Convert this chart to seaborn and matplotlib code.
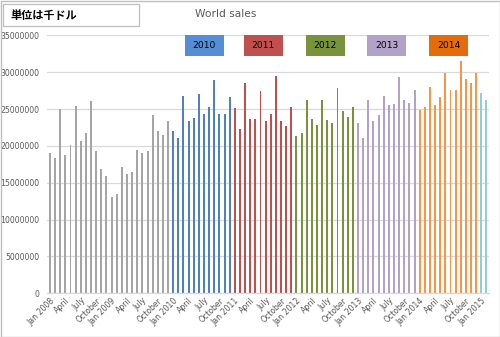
import matplotlib
matplotlib.use("Agg")
import matplotlib.pyplot as plt
import seaborn as sns
import pandas as pd
from matplotlib.patches import Rectangle

# ---- data (values in units shown on the axis) ----
sales_2008 = [19100000, 18420000, 25000000, 18830000, 20180000, 25450000,
              20720000, 21800000, 26130000, 19370000, 16940000, 15860000]
sales_2009 = [13020000, 13420000, 17200000, 16260000, 16400000, 19500000,
              19100000, 19360000, 24230000, 22090000, 21550000, 23400000]
sales_2010 = [22000000, 21050000, 26750000, 23450000, 23850000, 27000000,
              24400000, 25250000, 28950000, 24400000, 24400000, 26600000]
sales_2011 = [25100000, 22250000, 28500000, 23600000, 23600000, 27450000,
              23450000, 24400000, 29500000, 23450000, 22650000, 25350000]
sales_2012 = [21400000, 21800000, 26270000, 23700000, 22900000, 26270000,
              23550000, 23100000, 27830000, 24800000, 23880000, 25350000]
sales_2013 = [23100000, 21050000, 26200000, 23450000, 24250000, 26750000,
              25500000, 25650000, 29370000, 26200000, 25900000, 27650000]
sales_2014 = [24950000, 25350000, 28070000, 25500000, 26600000, 29900000,
              27550000, 27650000, 31530000, 29100000, 28500000, 29900000]
sales_2015 = [27150000, 26200000]

years = ["2008", "2009", "2010", "2011", "2012", "2013", "2014", "2015"]
quarter_labels = ["Jan", "April", "July", "October"]
legend_years = ["2010", "2011", "2012", "2013", "2014"]
title = "World sales"
unit_text = "単位は千ドル"

bar_colors = {"2008": "#A5A5A5", "2009": "#A5A5A5", "2010": "#4F81BD",
              "2011": "#C0504D", "2012": "#77933C", "2013": "#B3A2C7",
              "2014": "#F79646", "2015": "#93CDDD"}
box_colors = {"2010": "#558ED5", "2011": "#C0504D", "2012": "#77933C",
              "2013": "#B3A2C7", "2014": "#E46C0A"}

series = [sales_2008, sales_2009, sales_2010, sales_2011,
          sales_2012, sales_2013, sales_2014, sales_2015]

rows = []
i = 0
for y, vals in zip(years, series):
    for v in vals:
        rows.append({"idx": i, "value": v, "year": y})
        i += 1
df = pd.DataFrame(rows)
n = len(df)

# tick labels every 3 months
tick_pos = list(range(0, n, 3))
tick_lab = []
for p in tick_pos:
    m = p % 12
    yr = 2008 + p // 12
    if m == 0:
        tick_lab.append(f"Jan {yr}")
    else:
        tick_lab.append(quarter_labels[m // 3])

# ---- figure ----
sns.set_theme(style="white")
plt.rcParams["font.family"] = ["DejaVu Sans", "Noto Sans CJK JP"]

fig = plt.figure(figsize=(5.0, 3.37), dpi=100)
ax = fig.add_axes([0.0948, 0.1297, 0.978 - 0.0948, 0.8947 - 0.1297])

sns.barplot(data=df, x="idx", y="value", hue="year", palette=bar_colors,
            dodge=False, width=0.38, legend=False, ax=ax, saturation=1,
            linewidth=0)
for p in ax.patches:
    p.set_antialiased(False)

ax.set_xlim(-0.5, n - 0.5)
ax.set_ylim(0, 35000000)
ax.set_yticks(range(0, 35000001, 5000000))
ax.set_yticklabels([str(v) for v in range(0, 35000001, 5000000)],
                   fontsize=5.6, color="#595959")
ax.yaxis.grid(True, color="#D9D9D9", linewidth=0.9)
ax.set_axisbelow(True)
ax.set_xticks(tick_pos)
ax.set_xticklabels(tick_lab, rotation=45, ha="right", rotation_mode="anchor",
                   fontsize=5.6, color="#595959")
ax.tick_params(axis="x", length=0, pad=2)
ax.tick_params(axis="y", length=0, pad=6)
ax.set_xlabel("")
ax.set_ylabel("")
for s in ["top", "right", "left"]:
    ax.spines[s].set_visible(False)
ax.spines["bottom"].set_color("#D9D9D9")
ax.spines["bottom"].set_linewidth(0.9)

# title
fig.text(0.452, 0.958, title, ha="center", va="center", fontsize=7.7,
         color="#595959")

# unit box
fig.patches.append(Rectangle((3 / 500, 1 - 26 / 337), 136 / 500, 22 / 337,
                             transform=fig.transFigure, facecolor="white",
                             edgecolor="#BFBFBF", linewidth=0.9))
fig.text(10 / 500, 1 - 15.5 / 337, unit_text, ha="left", va="center",
         fontsize=8, fontweight="bold", color="black",
         family=["Noto Sans CJK JP", "DejaVu Sans"])

# year boxes
box_x = [185, 244, 306, 367.3, 429.3]
box_w = 38.5
for bx, yr in zip(box_x, legend_years):
    fig.patches.append(Rectangle((bx / 500, 1 - 56 / 337), box_w / 500, 21 / 337,
                                 transform=fig.transFigure,
                                 facecolor=box_colors[yr], edgecolor="none"))
    fig.text((bx + box_w / 2) / 500, 1 - 45.5 / 337, yr, ha="center",
             va="center", fontsize=6.6, color="black")

# outer border
fig.patches.append(Rectangle((0.5 / 500, 0.5 / 337), 499 / 500, 336 / 337,
                             transform=fig.transFigure, facecolor="none",
                             edgecolor="#BFBFBF", linewidth=1))

fig.savefig("out.png", dpi=100)
